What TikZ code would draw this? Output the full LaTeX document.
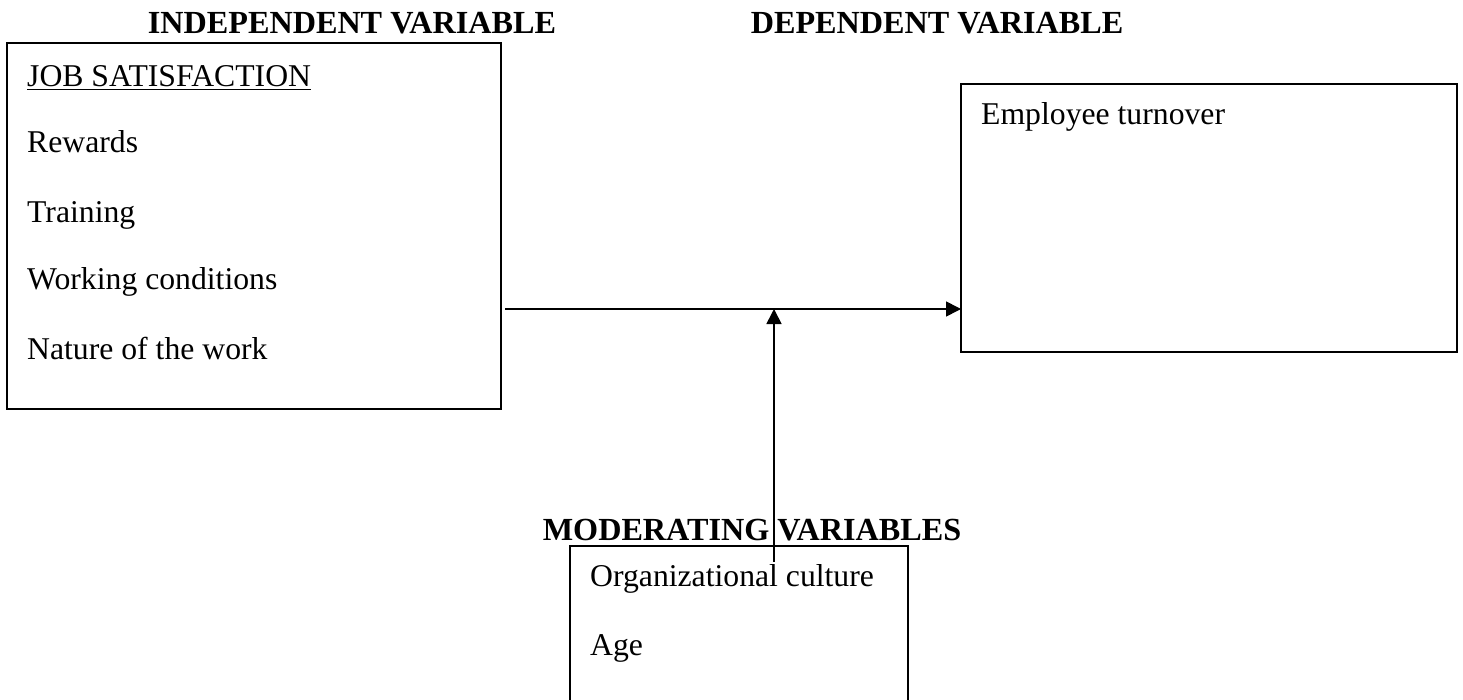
\documentclass[tikz,border=0pt]{standalone}
\usepackage{fontspec}
\setmainfont{Liberation Serif}
\usetikzlibrary{arrows.meta}
\begin{document}
\begin{tikzpicture}[x=1pt,y=-1pt,
  box/.style={draw, line width=1.6pt, inner sep=0pt, outer sep=0pt, anchor=north west},
  txt/.style={anchor=base west, inner sep=0pt, font=\fontsize{31.7}{38}\selectfont},
  head/.style={anchor=base, inner sep=0pt, font=\fontsize{32.2}{38}\selectfont\bfseries},
  arr/.style={line width=1.6pt, -{Triangle[length=15pt,width=15pt]}}]
\useasboundingbox (0,0) rectangle (1463,700);
\clip (0,0) rectangle (1463,700);
% headings
\node[head] (ivh) at (352,34) {INDEPENDENT VARIABLE};
\node[head] (dvh) at (937,34) {DEPENDENT VARIABLE};
\node[head] (mvh) at (752,540) {MODERATING VARIABLES};
% boxes
\node[box, minimum width=494pt, minimum height=366pt] (iv) at (7,43) {};
\node[box, minimum width=496pt, minimum height=268pt] (dv) at (961,84) {};
\node[box, minimum width=338pt, minimum height=200pt] (mv) at (570,546) {};
% texts in left box
\node[txt] (t1) at (27,87) {\underline{JOB SATISFACTION}};
\node[txt] (t2) at (27,153) {Rewards};
\node[txt] (t3) at (27,223) {Training};
\node[txt] (t4) at (27,290) {Working conditions};
\node[txt] (t5) at (27,359) {Nature of the work};
% right box
\node[txt] (t6) at (981,125) {Employee turnover};
% bottom box
\node[txt] (t7) at (590,586) {Organizational culture};
\node[txt] (t8) at (590,655) {Age};
% connectors
\coordinate (hstart) at (505,309);
\coordinate (vstart) at (774,562);
\draw[arr] (hstart) -- (dv.west |- hstart);
\draw[arr] (vstart) -- (vstart |- hstart);
\end{tikzpicture}
\end{document}
